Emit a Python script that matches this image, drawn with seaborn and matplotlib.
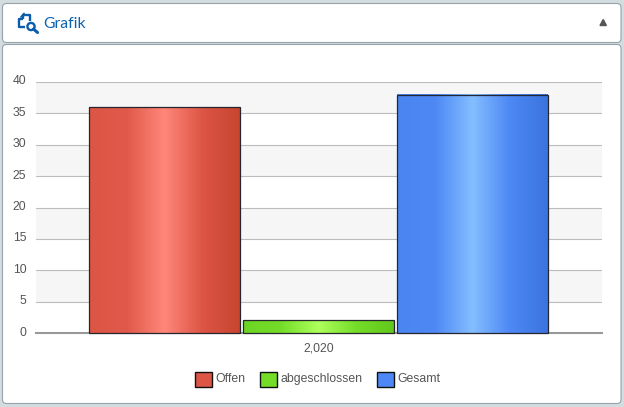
import numpy as np
import pandas as pd
import matplotlib
matplotlib.use("Agg")
import matplotlib.pyplot as plt
import seaborn as sns
from matplotlib.colors import LinearSegmentedColormap
from matplotlib.patches import FancyBboxPatch, Circle, Patch
from matplotlib.transforms import ScaledTranslation

W, H = 624, 407

years = [2020, 2020, 2020]
series = ["Offen", "abgeschlossen", "Gesamt"]
values = [36, 2, 38]
y_ticks = [0, 5, 10, 15, 20, 25, 30, 35, 40]

base_colors = ["#dd5545", "#74dd28", "#4d88f5"]
gradients = [
    ["#dd5545", "#e0594a", "#ff877a", "#dd5545", "#c8452f"],
    ["#6cd424", "#74dd28", "#aeff5c", "#74dd28", "#62c81c"],
    ["#4a86f2", "#4d88f5", "#84beff", "#4d88f5", "#3b74de"],
]

df = pd.DataFrame({"year": years, "series": series, "value": values})

sns.set_theme(style="white")
plt.rcParams["font.family"] = ["Liberation Sans", "DejaVu Sans"]

fig = plt.figure(figsize=(W / 100, H / 100), dpi=100, facecolor="#d3dcdf")

# page furniture in pixel coordinates
bg = fig.add_axes([0, 0, 1, 1], zorder=0)
bg.set_xlim(0, W)
bg.set_ylim(H, 0)
bg.axis("off")
for x0, y0, x1, y1 in [(2.5, 3.5, 621, 42.5), (2.5, 44.5, 621, 403.5)]:
    bg.add_patch(FancyBboxPatch((x0 + 4, y0 + 4), x1 - x0 - 8, y1 - y0 - 8,
                                boxstyle="round,pad=4,rounding_size=4",
                                fc="white", ec="#97a3ab", lw=0.8))
blue = "#0b5cab"
bg.plot([25, 19, 19, 23], [27, 27, 19, 19], color=blue, lw=1.7, solid_capstyle="butt")
bg.plot([23, 23, 30, 30], [19, 14.5, 14.5, 21], color=blue, lw=1.7, solid_capstyle="butt")
bg.plot([21, 24], [17, 13.5], color=blue, lw=1.3)
bg.add_patch(Circle((31, 26.5), 3.6, fc="none", ec=blue, lw=1.7))
bg.plot([33.5, 37.5], [29, 32.5], color=blue, lw=2.2)
bg.text(43, 23.5, "Grafik", color="#0b62b0", fontsize=11.3, family="Lato", va="center", ha="left")
bg.fill([600, 603.2, 606.4], [25.5, 19.5, 25.5], color="#555555")

# chart area
ax = fig.add_axes([36 / W, 1 - 333 / H, 566 / W, 251 / H], zorder=1)
ax.patch.set_alpha(0)
sns.barplot(data=df, x="year", y="value", hue="series", hue_order=series,
            palette=base_colors, width=0.816, gap=0.0195, legend=False, ax=ax, saturation=1)
xlim = (-0.4995, 0.5005)
ax.set_xlim(xlim)
ax.set_ylim(0, 40)

for lo, hi in [(5, 10), (15, 20), (25, 30), (35, 40)]:
    ax.axhspan(lo, hi, color="#f6f6f6", lw=0, zorder=0)
for t in y_ticks[1:]:
    ax.axhline(t, color="#bcbcbc", lw=0.8, zorder=1)

for cont, stops in zip(ax.containers, gradients):
    for bar in cont:
        bar.set_facecolor("none")
        bar.set_edgecolor("#26262e")
        bar.set_linewidth(0.9)
        bar.set_zorder(4)
        bar.set_clip_on(False)
        cmap = LinearSegmentedColormap.from_list("g", stops)
        ax.imshow(np.linspace(0, 1, 256).reshape(1, -1), cmap=cmap, aspect="auto", zorder=3,
                  extent=[bar.get_x(), bar.get_x() + bar.get_width(), 0, bar.get_height()])
ax.set_xlim(xlim)
ax.set_ylim(0, 40)

sns.despine(ax=ax, left=True, top=True, right=True)
ax.spines["bottom"].set_color("#999999")
ax.spines["bottom"].set_linewidth(1.5)
ax.set_xlabel("")
ax.set_ylabel("")
ax.set_yticks(y_ticks)
ax.set_xticks([0])
ax.set_xticklabels([f"{years[0]:,}"])
ax.tick_params(axis="both", length=0, labelsize=8.8, labelcolor="#555555")
ax.tick_params(axis="y", pad=7)
ax.tick_params(axis="x", pad=7)
up = ScaledTranslation(0, 2 / 100, fig.dpi_scale_trans)
for lab in ax.get_yticklabels():
    lab.set_transform(lab.get_transform() + up)

handles = [Patch(fc=c, ec="#111111", lw=1, label=s) for c, s in zip(base_colors, series)]
leg = fig.legend(handles=handles, loc="center", bbox_to_anchor=(317.5 / W, 1 - 379.5 / H), ncol=3, frameon=False,
                 fontsize=8.8, labelcolor="#555555", handlelength=1.38, handleheight=1.4,
                 handletextpad=0.28, columnspacing=1.22, borderpad=0)
for txt in leg.get_texts():
    txt.set_y(1.5)

fig.savefig("out.png", dpi=100, facecolor=fig.get_facecolor())
